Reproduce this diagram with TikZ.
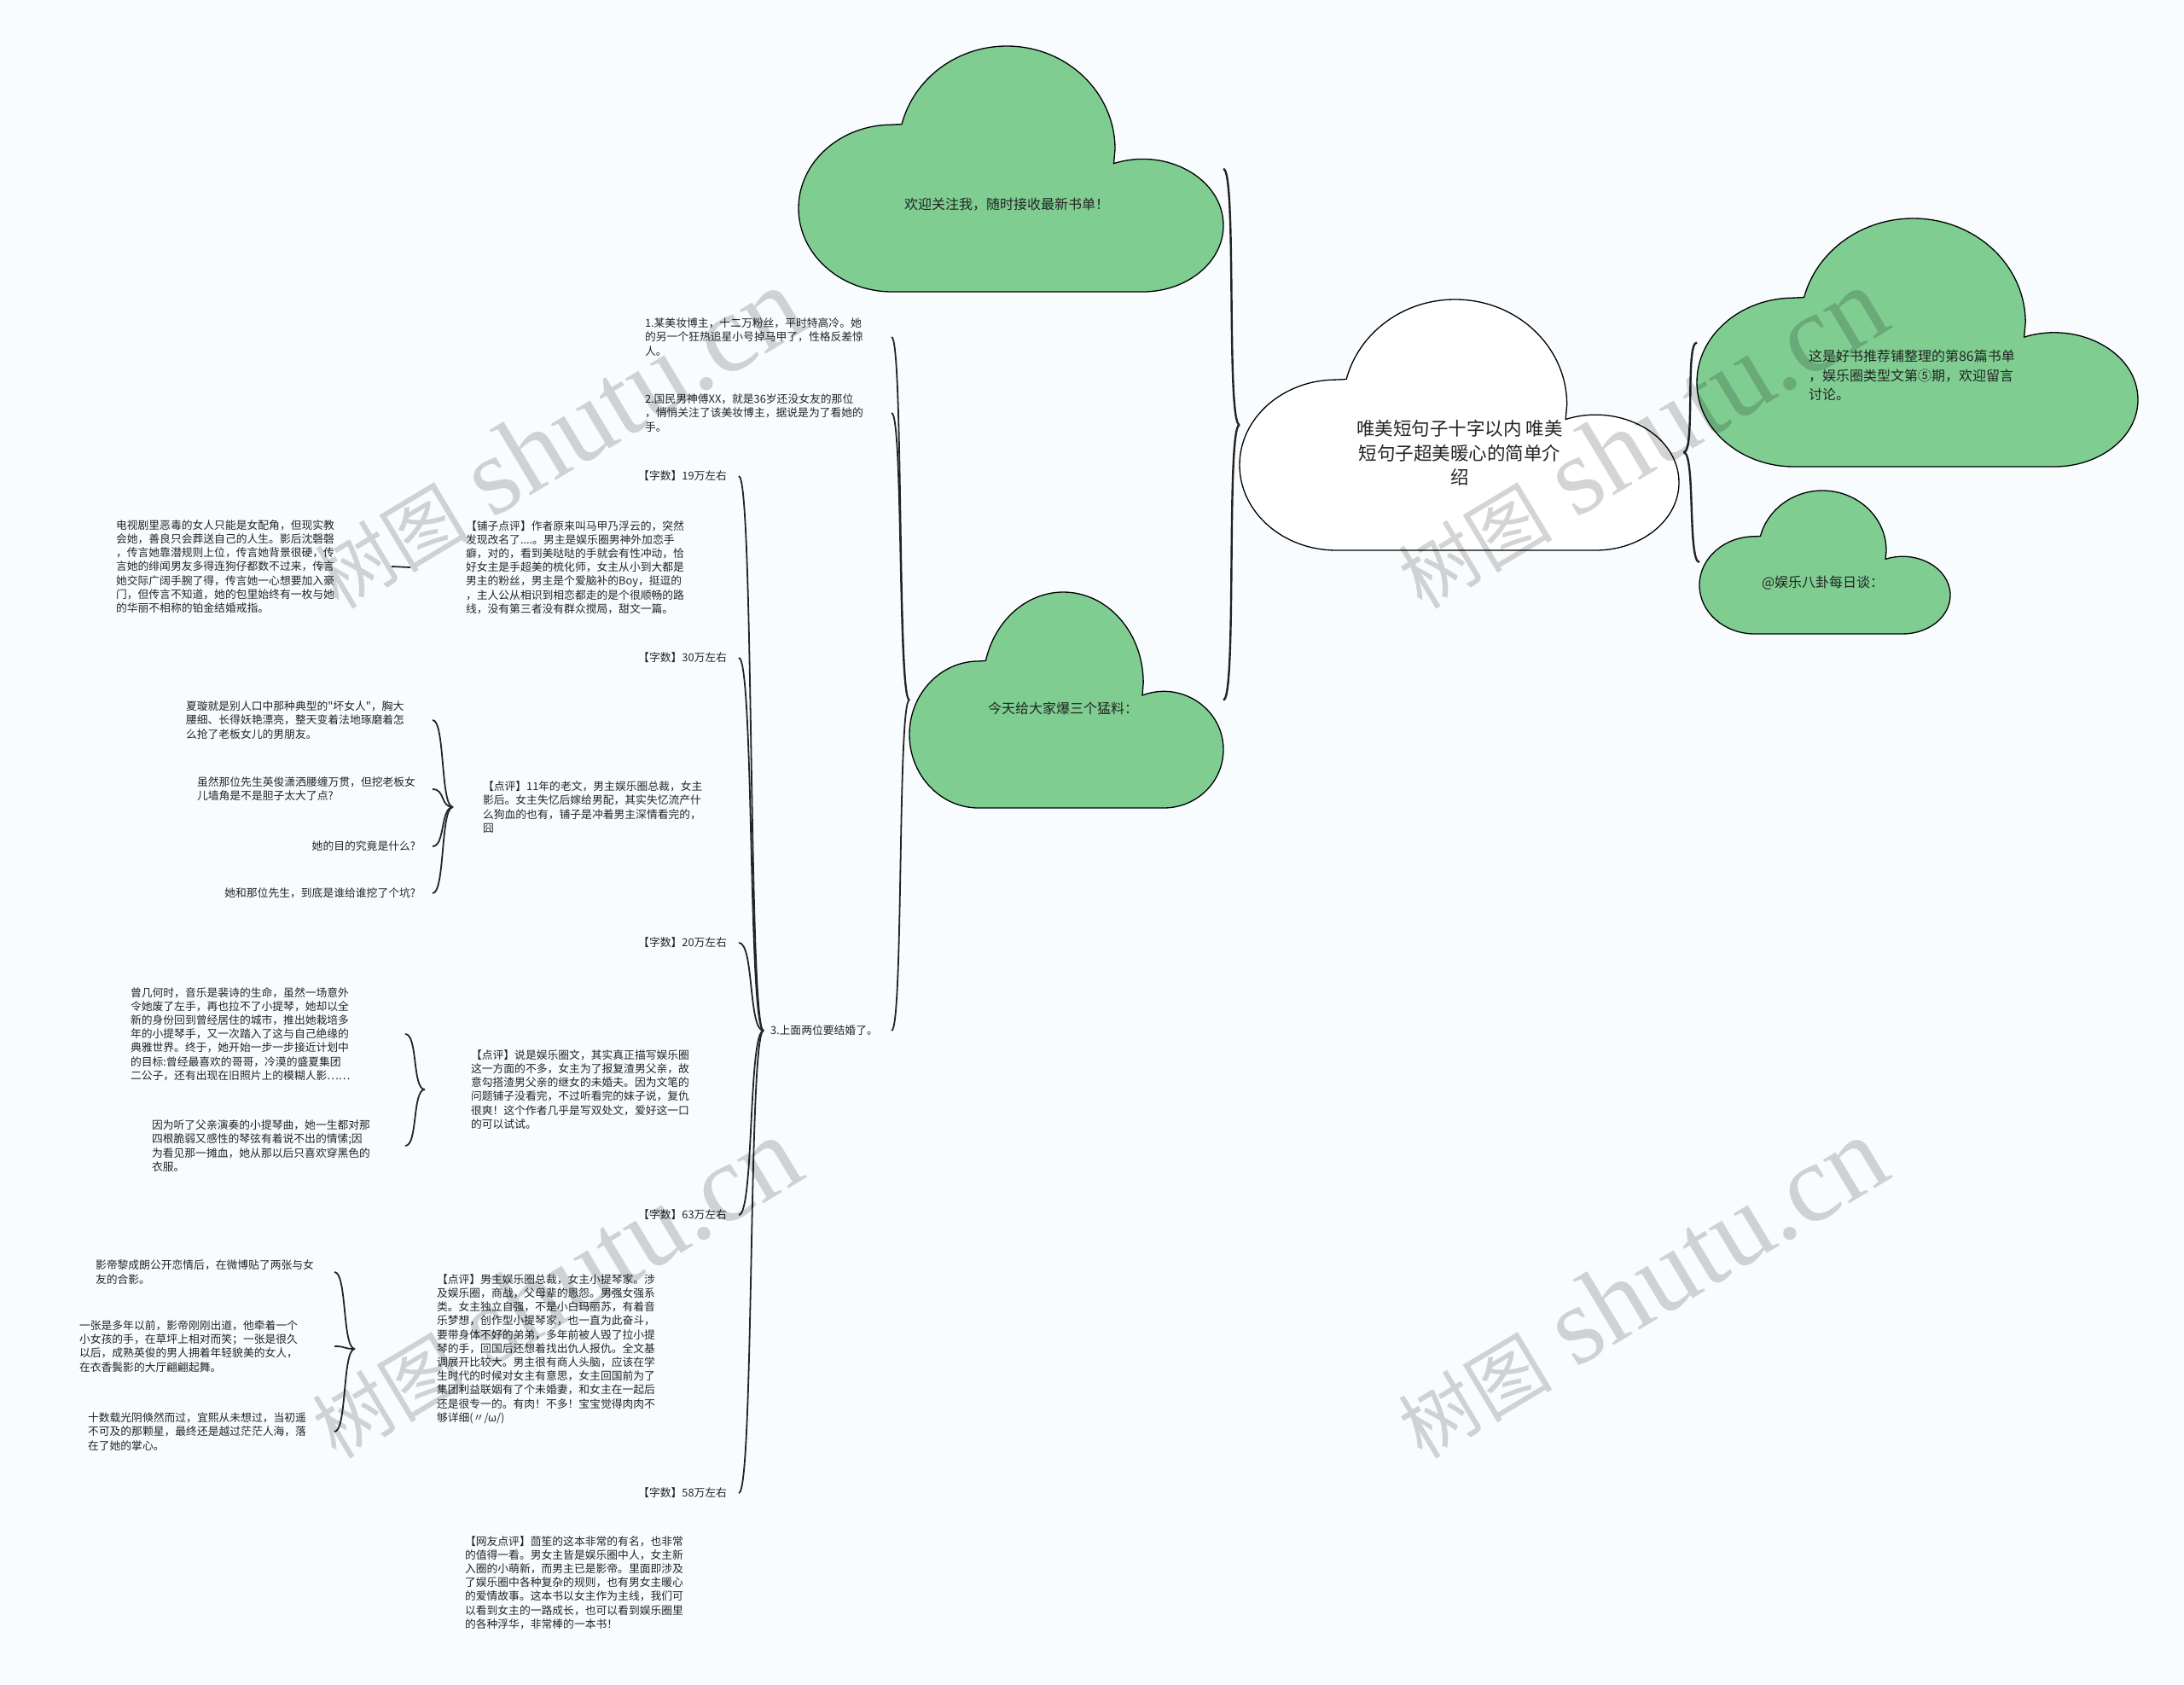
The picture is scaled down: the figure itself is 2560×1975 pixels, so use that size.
\documentclass[tikz,border=0pt]{standalone}
\usepackage{fontspec}
\setmainfont{Noto Sans CJK SC}
\newfontfamily\rawcjk{Noto Sans CJK SC}
\newfontfamily\wmlatin{Liberation Serif}
\usetikzlibrary{calc}
\definecolor{paper}{RGB}{249,252,254}
\definecolor{cloudgreen}{RGB}{127,205,145}
\definecolor{ink}{RGB}{35,35,35}
\tikzset{
  every node/.style={inner sep=0pt, outer sep=0pt},
  note/.style={font=\fontsize{12.8}{16.2}\selectfont, align=left, anchor=west, text=ink},
  tag/.style={font=\fontsize{12.8}{16.2}\selectfont, anchor=east, text=ink},
  midtext/.style={font=\fontsize{16}{22.5}\selectfont, align=left, text=ink},
  bigtext/.style={font=\fontsize{21.5}{28.5}\selectfont, align=center, text=ink},
  cloudline/.style={draw=black, line width=1.3pt},
  link/.style={draw=ink, line width=1.8pt},
  mainlink/.style={draw=ink, line width=2.4pt},
  wm/.style={rotate=31, text=black, text opacity=0.17}
}
% cloud: name, fill, left, top, width, height
\newcommand\bubble[6]{%
  \begin{scope}[shift={(#3,#4)},xscale=#5,yscale=#6]
    \draw[cloudline,fill=#2] (0.22,1)
      .. controls (0.099,1) and (0,0.848) .. (0,0.66)
      .. controls (0,0.472) and (0.099,0.32) .. (0.22,0.32)
      -- (0.243,0.318)
      .. controls (0.272,0.13) and (0.374,0) .. (0.49,0)
      .. controls (0.631,0) and (0.745,0.188) .. (0.745,0.42)
      -- (0.742,0.478)
      .. controls (0.866,0.41) and (1,0.54) .. (1,0.73)
      .. controls (1,0.879) and (0.915,1) .. (0.81,1)
      -- cycle;
    \coordinate (#1-w) at (0,0.5);
    \coordinate (#1-e) at (1,0.5);
  \end{scope}}

\begin{document}
\begin{tikzpicture}[x=1pt,y=-1pt]
\useasboundingbox (0,0) rectangle (2560,1975);
\fill[paper] (0,0) rectangle (2560,1975);

% clouds
\bubble{top}{cloudgreen}{936}{54}{498}{288}
\bubble{root}{white}{1453}{351}{515}{294}
\bubble{rone}{cloudgreen}{1989}{256}{517}{291}
\bubble{rtwo}{cloudgreen}{1992}{575}{294}{168}
\bubble{jt}{cloudgreen}{1066}{694}{368}{253}

\node[bigtext] (root) at (1711,531) {唯美短句子十字以内 唯美\\短句子超美暖心的简单介\\绍};
\node[midtext] (welcome) at (1180,240) {欢迎关注我，随时接收最新书单！};
\node[midtext] (today) at (1246,830) {今天给大家爆三个猛料：};
\node[midtext, anchor=west] (booklist) at (2120,440) {这是好书推荐铺整理的第86篇书单\\，娱乐圈类型文第⑤期，欢迎留言\\讨论。};
\node[midtext, anchor=west] (gossip) at (2065,683) {@娱乐八卦每日谈：};

% first level texts
\node[note] (fan) at (756,395) {1.某美妆博主，十二万粉丝，平时特高冷。她\\的另一个狂热追星小号掉马甲了，性格反差惊\\人。};
\node[note] (idol) at (756,484) {2.国民男神傅XX，就是36岁还没女友的那位\\，悄悄关注了该美妆博主，据说是为了看她的\\手。};
\node[note] (wed) at (903,1208) {3.上面两位要结婚了。};

% word counts
\node[tag] (wc1) at (852,558) {【字数】19万左右};
\node[tag] (wc2) at (852,771) {【字数】30万左右};
\node[tag] (wc3) at (852,1105) {【字数】20万左右};
\node[tag] (wc4) at (852,1424) {【字数】63万左右};
\node[tag] (wc5) at (852,1750) {【字数】58万左右};

% reviews
\node[note] (rev1) at (546,665) {【铺子点评】作者原来叫马甲乃浮云的，突然\\发现改名了....。男主是娱乐圈男神外加恋手\\癖，对的，看到美哒哒的手就会有性冲动，恰\\好女主是手超美的梳化师，女主从小到大都是\\男主的粉丝，男主是个爱脑补的Boy，挺逗的\\，主人公从相识到相恋都走的是个很顺畅的路\\线，没有第三者没有群众搅局，甜文一篇。};
\node[note] (rev2) at (566,946) {【点评】11年的老文，男主娱乐圈总裁，女主\\影后。女主失忆后嫁给男配，其实失忆流产什\\么狗血的也有，铺子是冲着男主深情看完的，\\囧};
\node[note] (rev3) at (552,1277) {【点评】说是娱乐圈文，其实真正描写娱乐圈\\这一方面的不多，女主为了报复渣男父亲，故\\意勾搭渣男父亲的继女的未婚夫。因为文笔的\\问题铺子没看完，不过听看完的妹子说，复仇\\很爽！这个作者几乎是写双处文，爱好这一口\\的可以试试。};
\node[note] (rev4) at (512,1581) {【点评】男主娱乐圈总裁，女主小提琴家。涉\\及娱乐圈，商战，父母辈的恩怨。男强女强系\\类。女主独立自强，不是小白玛丽苏，有着音\\乐梦想，创作型小提琴家，也一直为此奋斗，\\要带身体不好的弟弟，多年前被人毁了拉小提\\琴的手，回国后还想着找出仇人报仇。全文基\\调展开比较大。男主很有商人头脑，应该在学\\生时代的时候对女主有意思，女主回国前为了\\集团利益联姻有了个未婚妻，和女主在一起后\\还是很专一的。有肉！不多！宝宝觉得肉肉不\\够详细(〃/ω/)};
\node[note] (rev5) at (545,1855) {【网友点评】茴笙的这本非常的有名，也非常\\的值得一看。男女主皆是娱乐圈中人，女主新\\入圈的小萌新，而男主已是影帝。里面即涉及\\了娱乐圈中各种复杂的规则，也有男女主暖心\\的爱情故事。这本书以女主作为主线，我们可\\以看到女主的一路成长，也可以看到娱乐圈里\\的各种浮华，非常棒的一本书！};

% plots
\node[note] (plot1) at (136,664) {电视剧里恶毒的女人只能是女配角，但现实教\\会她，善良只会葬送自己的人生。影后沈磬磬\\，传言她靠潜规则上位，传言她背景很硬，传\\言她的绯闻男友多得连狗仔都数不过来，传言\\她交际广阔手腕了得，传言她一心想要加入豪\\门，但传言不知道，她的包里始终有一枚与她\\的华丽不相称的铂金结婚戒指。};
\node[note] (plot2a) at (218,844) {夏璇就是别人口中那种典型的{\rawcjk"}坏女人{\rawcjk"}，胸大\\腰细、长得妖艳漂亮，整天变着法地琢磨着怎\\么抢了老板女儿的男朋友。};
\node[note, anchor=east] (plot2b) at (487,925) {虽然那位先生英俊潇洒腰缠万贯，但挖老板女\\儿墙角是不是胆子太大了点?};
\node[note, anchor=east] (plot2c) at (487,992) {她的目的究竟是什么?};
\node[note, anchor=east] (plot2d) at (487,1047) {她和那位先生，到底是谁给谁挖了个坑?};
\node[note] (plot3a) at (153,1212) {曾几何时，音乐是裴诗的生命，虽然一场意外\\令她废了左手，再也拉不了小提琴，她却以全\\新的身份回到曾经居住的城市，推出她栽培多\\年的小提琴手，又一次踏入了这与自己绝缘的\\典雅世界。终于，她开始一步一步接近计划中\\的目标:曾经最喜欢的哥哥，冷漠的盛夏集团\\二公子，还有出现在旧照片上的模糊人影……};
\node[note] (plot3b) at (178,1343) {因为听了父亲演奏的小提琴曲，她一生都对那\\四根脆弱又感性的琴弦有着说不出的情愫;因\\为看见那一摊血，她从那以后只喜欢穿黑色的\\衣服。};
\node[note] (plot4a) at (112,1491) {影帝黎成朗公开恋情后，在微博贴了两张与女\\友的合影。};
\node[note] (plot4b) at (93,1578) {一张是多年以前，影帝刚刚出道，他牵着一个\\小女孩的手，在草坪上相对而笑；一张是很久\\以后，成熟英俊的男人拥着年轻貌美的女人，\\在衣香鬓影的大厅翩翩起舞。};
\node[note] (plot4c) at (103,1678) {十数载光阴倏然而过，宜熙从未想过，当初遥\\不可及的那颗星，最终还是越过茫茫人海，落\\在了她的掌心。};

% end columns of the braces
\coordinate (jt-x) at (1045,0);
\coordinate (wed-x) at (866,0);
\coordinate (rev2-x) at (507,0);
\coordinate (rev3-x) at (475,0);
\coordinate (rev4-x) at (392,0);
\coordinate (root-r) at ($(rone-w)!0.5!(rtwo-w)+(-17,0)$);

% edges
\draw[mainlink] (root-w) .. controls +(-16,0) and +(16,0) .. (top-e);
\draw[mainlink] (root-w) .. controls +(-16,0) and +(16,0) .. (jt-e);
\draw[mainlink] (root-r) .. controls +(14,0) and +(-14,0) .. (rone-w);
\draw[mainlink] (root-r) .. controls +(14,0) and +(-14,0) .. (rtwo-w);

\draw[link] (jt-w) .. controls +(-14,0) and +(14,0) .. (fan.east -| jt-x);
\draw[link] (jt-w) .. controls +(-14,0) and +(14,0) .. (idol.east -| jt-x);
\draw[link] (jt-w) .. controls +(-14,0) and +(14,0) .. (wed.east -| jt-x);

\draw[link] ([xshift=-8pt]wed.west) .. controls +(-18,0) and +(18,0) .. (wc1.east -| wed-x);
\draw[link] ([xshift=-8pt]wed.west) .. controls +(-18,0) and +(18,0) .. (wc2.east -| wed-x);
\draw[link] ([xshift=-8pt]wed.west) .. controls +(-18,0) and +(18,0) .. (wc3.east -| wed-x);
\draw[link] ([xshift=-8pt]wed.west) .. controls +(-18,0) and +(18,0) .. (wc4.east -| wed-x);
\draw[link] ([xshift=-8pt]wed.west) .. controls +(-18,0) and +(18,0) .. (wc5.east -| wed-x);

\draw[link] ([xshift=-65pt]rev1.west) -- ([xshift=67pt]plot1.east);

\draw[link] ([xshift=-35pt]rev2.west) .. controls +(-15,0) and +(15,0) .. (plot2a.east -| rev2-x);
\draw[link] ([xshift=-35pt]rev2.west) .. controls +(-15,0) and +(15,0) .. (plot2b.east -| rev2-x);
\draw[link] ([xshift=-35pt]rev2.west) .. controls +(-15,0) and +(15,0) .. (plot2c.east -| rev2-x);
\draw[link] ([xshift=-35pt]rev2.west) .. controls +(-15,0) and +(15,0) .. (plot2d.east -| rev2-x);

\draw[link] ([xshift=-54pt]rev3.west) .. controls +(-15,0) and +(15,0) .. (plot3a.east -| rev3-x);
\draw[link] ([xshift=-54pt]rev3.west) .. controls +(-15,0) and +(15,0) .. (plot3b.east -| rev3-x);

\draw[link] ([xshift=-96pt]rev4.west) .. controls +(-15,0) and +(15,0) .. (plot4a.east -| rev4-x);
\draw[link] ([xshift=-96pt]rev4.west) .. controls +(-15,0) and +(15,0) .. (plot4b.east -| rev4-x);
\draw[link] ([xshift=-96pt]rev4.west) .. controls +(-15,0) and +(15,0) .. (plot4c.east -| rev4-x);

% watermarks
\foreach \wx/\wy [count=\i] in {653/514, 1923/514, 650/1510, 1923/1510}
  \node[wm] (wm\i) at (\wx,\wy) {{\fontsize{90}{90}\selectfont 树图}\hspace{28pt}{\wmlatin\fontsize{130}{130}\selectfont shutu.cn}};
\end{tikzpicture}
\end{document}
